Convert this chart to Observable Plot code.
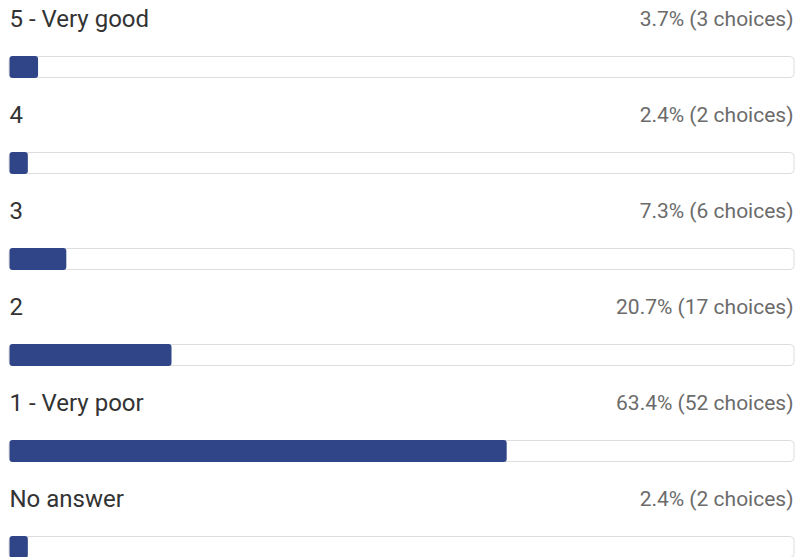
<!DOCTYPE html>
<html>
<head>
<meta charset="utf-8">
<script src="https://cdn.jsdelivr.net/npm/d3@7"></script>
<script src="https://cdn.jsdelivr.net/npm/@observablehq/plot@0.6"></script>
<style>
  html, body { margin: 0; padding: 0; background: #fff; }
  #chart svg { display: block; }
</style>
</head>
<body>
<div id="chart"></div>
<script>
const categories = ["5 - Very good", "4", "3", "2", "1 - Very poor", "No answer"];
const percents = [3.7, 2.4, 7.3, 20.7, 63.4, 2.4];
const counts = [3, 2, 6, 17, 52, 2];

const data = categories.map((c, i) => ({
  category: c,
  pct: percents[i],
  label: `${percents[i].toFixed(1)}% (${counts[i]} choices)`
}));

const font = "Roboto, 'Noto Sans', sans-serif";

const chart = Plot.plot({
  width: 796,
  height: 557,
  marginLeft: 9,
  marginRight: 2,
  marginTop: 0,
  marginBottom: 0,
  style: { fontFamily: font, background: "#fff" },
  x: { domain: [0, 100], range: [9, 794], axis: null },
  y: { type: "band", domain: categories, range: [0, 576], padding: 0, axis: null },
  marks: [
    Plot.rectX(data, {
      x1: 0, x2: 100, y: "category",
      insetTop: 56.5, insetBottom: 18.5,
      fill: "#fff", stroke: "#dddddd", strokeWidth: 1, rx: 4
    }),
    Plot.barX(data, {
      x1: 0, x2: "pct", y: "category",
      insetTop: 56, insetBottom: 18, insetLeft: 0.5,
      fill: "#2f4587", rx: 3
    }),
    Plot.text(data, {
      x: 0, y: "category", text: "category",
      textAnchor: "start", lineAnchor: "bottom", dy: -22,
      fontSize: 24, fill: "#333333", fontFamily: font
    }),
    Plot.text(data, {
      x: 100, y: "category", text: "label",
      textAnchor: "end", lineAnchor: "bottom", dy: -23, dx: -1,
      fontSize: 21, fill: "#6b6b6b", fontFamily: font
    })
  ]
});

document.getElementById("chart").appendChild(chart);
</script>
</body>
</html>
